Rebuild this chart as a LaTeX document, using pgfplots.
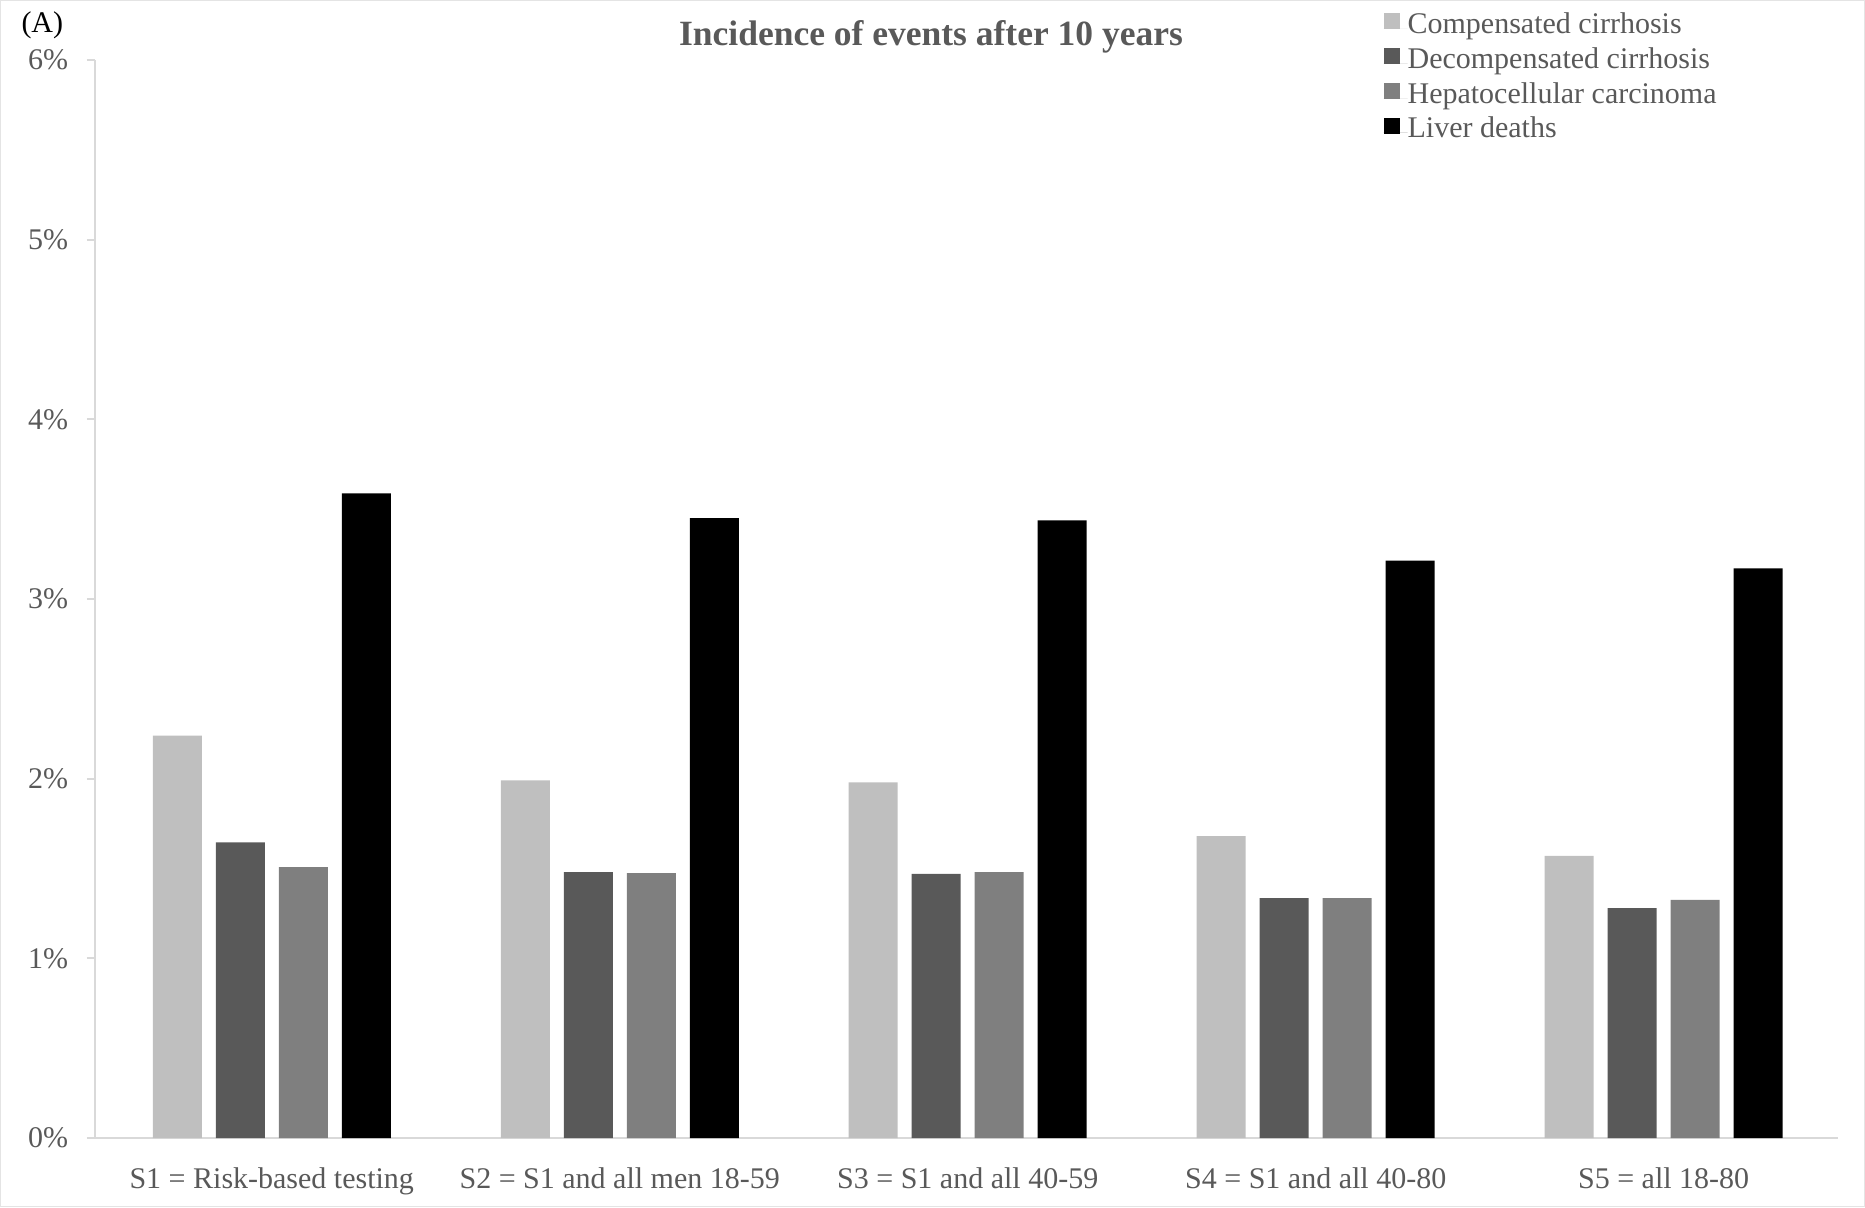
\documentclass[border=0pt]{standalone}
\usepackage{fontspec}
\setmainfont{Liberation Serif}
\usepackage{pgfplots}
\pgfplotsset{compat=1.18}
\definecolor{cComp}{HTML}{BFBFBF}
\definecolor{cDec}{HTML}{595959}
\definecolor{cHcc}{HTML}{7F7F7F}
\definecolor{txt}{HTML}{595959}
\definecolor{axl}{HTML}{D9D9D9}
\begin{document}
\begin{tikzpicture}
\path[use as bounding box] (0,0) rectangle (746pt,482.8pt);
\draw[axl!70, line width=0.6pt] (0.3pt,0.3pt) rectangle (745.7pt,482.5pt);
\begin{axis}[
  at={(38pt,27.6pt)}, anchor=south west,
  scale only axis, width=697.2pt, height=431.2pt,
  xmin=-0.508, xmax=4.501, ymin=0, ymax=6,
  ybar=5.6pt, bar width=19.6pt,
  axis x line*=bottom, axis y line*=left,
  axis line style={axl, line width=0.8pt},
  xtick={0,1,2,3,4},
  xticklabels={S1 = Risk-based testing, S2 = S1 and all men 18-59, S3 = S1 and all 40-59, S4 = S1 and all 40-80, S5 = all 18-80},
  xtick style={draw=none},
  ytick={0,1,2,3,4,5,6},
  yticklabels={0\%,1\%,2\%,3\%,4\%,5\%,6\%},
  ytick style={axl, line width=0.8pt},
  tick align=outside, major tick length=3.2pt,
  /pgf/number format/assume math mode=true,
  tick label style={font=\fontsize{12}{14}\selectfont, text=txt},
  xticklabel style={yshift=-5pt},
  yticklabel style={xshift=-4pt},
  legend style={at={(0.739,1.0457)}, anchor=north west, draw=none, fill=none,
    inner sep=0pt, row sep=0pt,
    font=\fontsize{12}{14}\selectfont, text=txt,
    cells={anchor=west},
    nodes={inner sep=0pt, text height=9pt, text depth=4.9pt}},
  legend image code/.code={\fill[#1] (0pt,-0.3pt) rectangle (6.4pt,6.1pt); \path (0pt,0pt) -- (9.6pt,0pt);},
]
\addplot[fill=cComp, draw=none] coordinates {(0,2.24) (1,1.99) (2,1.98) (3,1.68) (4,1.57)};
\addplot[fill=cDec, draw=none] coordinates {(0,1.645) (1,1.48) (2,1.47) (3,1.335) (4,1.28)};
\addplot[fill=cHcc, draw=none] coordinates {(0,1.508) (1,1.475) (2,1.48) (3,1.335) (4,1.326)};
\addplot[fill=black, draw=none] coordinates {(0,3.588) (1,3.45) (2,3.437) (3,3.213) (4,3.171)};
\legend{Compensated cirrhosis, Decompensated cirrhosis, Hepatocellular carcinoma, Liver deaths}
\end{axis}
\node[font=\fontsize{14.2}{17}\selectfont\bfseries, text=txt] at (372.4pt,468.2pt) {Incidence of events after 10 years};
\node[font=\fontsize{12}{14}\selectfont, anchor=west, inner sep=0pt] at (8.4pt,472.5pt) {(A)};
\end{tikzpicture}
\end{document}
